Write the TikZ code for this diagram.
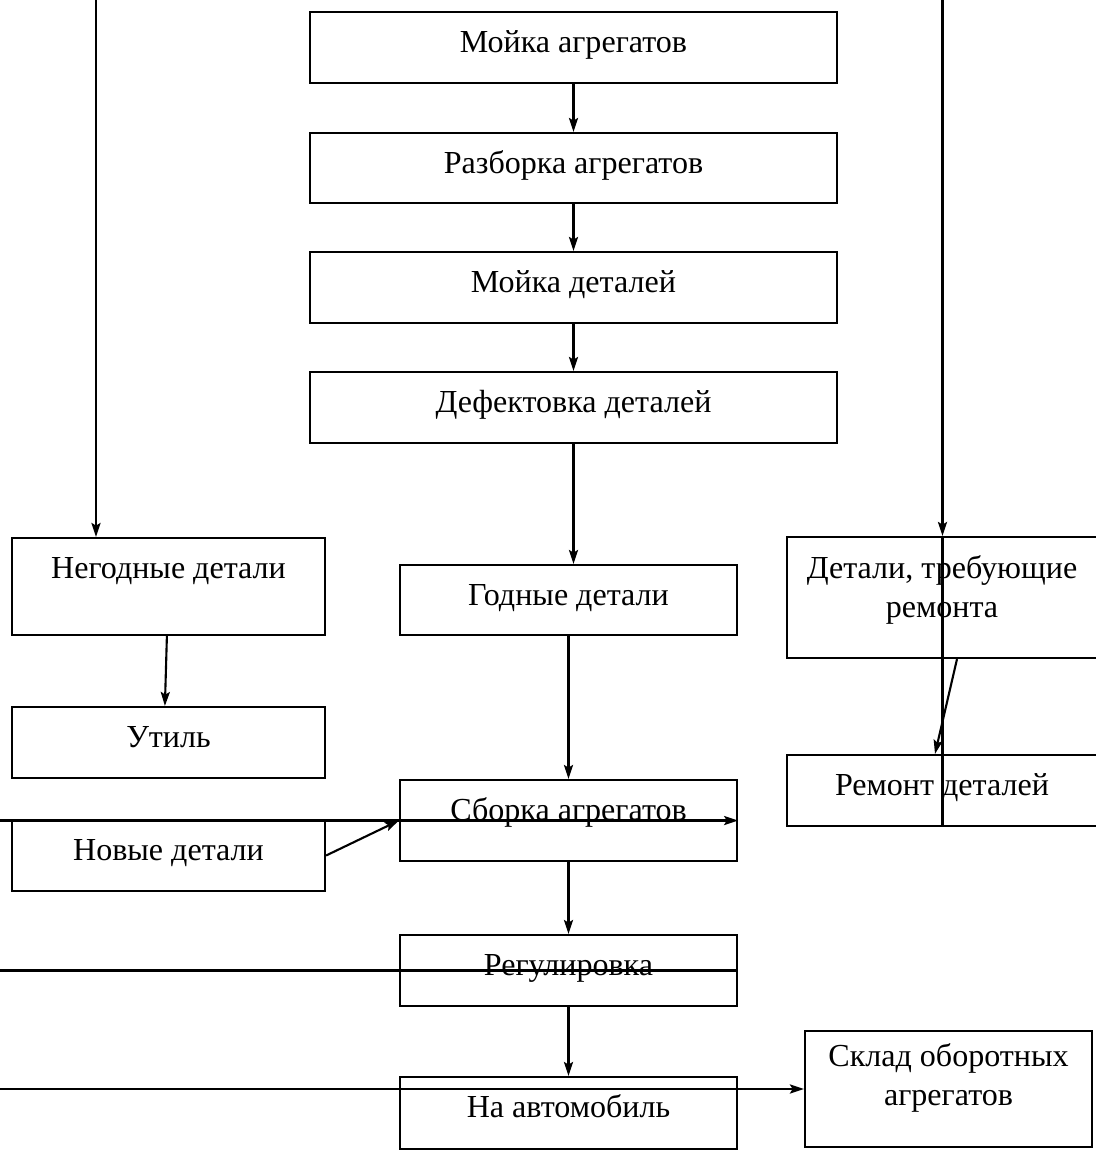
\documentclass[tikz,border=0pt]{standalone}
\usepackage{fontspec}
\setmainfont{Liberation Serif}
\usetikzlibrary{arrows.meta}

\tikzset{
  blok/.style={draw, inner sep=0pt},
  txt/.style={anchor=base, yshift=-1.03cm, inner sep=0pt, font=\fontsize{22.8}{27.7}\selectfont},
  txtdva/.style={anchor=center, align=center, inner sep=0pt, font=\fontsize{22.8}{27.7}\selectfont},
  strelka/.style={-{Stealth[length=10pt,width=6.5pt,inset=2pt]}},
}

\begin{document}
\begin{tikzpicture}[x=0.025cm,y=-0.025cm,line width=1.5pt]
\clip (0,0) rectangle (1096,1153);

% central column
\node[blok, minimum width=13.175cm, minimum height=1.775cm, label={[txt]north:Мойка агрегатов}] (moyka) at (573.5,47.5) {};
\node[blok, minimum width=13.175cm, minimum height=1.75cm, label={[txt]north:Разборка агрегатов}] (razborka) at (573.5,168) {};
\node[blok, minimum width=13.175cm, minimum height=1.775cm, label={[txt]north:Мойка деталей}] (moykadet) at (573.5,287.5) {};
\node[blok, minimum width=13.175cm, minimum height=1.775cm, label={[txt]north:Дефектовка деталей}] (defekt) at (573.5,407.5) {};

\node[blok, minimum width=8.425cm, minimum height=1.75cm, label={[txt]north:Годные детали}] (godnye) at (568.5,600) {};
\node[blok, minimum width=8.425cm, minimum height=2.025cm, label={[txt]north:Сборка агрегатов}] (sborka) at (568.5,820.5) {};
\node[blok, minimum width=8.425cm, minimum height=1.775cm, label={[txt]north:Регулировка}] (regul) at (568.5,970.5) {};
\node[blok, minimum width=8.425cm, minimum height=1.8cm, label={[txt]north:На автомобиль}] (naavto) at (568.5,1113) {};

% left column
\node[blok, minimum width=7.825cm, minimum height=2.425cm, label={[txt]north:Негодные детали}] (negod) at (168.5,586.5) {};
\node[blok, minimum width=7.825cm, minimum height=1.775cm, label={[txt]north:Утиль}] (util) at (168.5,742.5) {};
\node[blok, minimum width=7.825cm, minimum height=1.775cm, label={[txt]north:Новые детали}] (novye) at (168.5,855.5) {};

% right column
\node[blok, minimum width=7.75cm, minimum height=3.025cm, label={[txtdva, yshift=-1.35cm]north:Детали, требующие\\ремонта}] (remtreb) at (942,597.5) {};
\node[blok, minimum width=7.75cm, minimum height=1.775cm, label={[txt]north:Ремонт деталей}] (remont) at (942,790.5) {};
\node[blok, minimum width=7.175cm, minimum height=2.9cm, label={[txtdva, yshift=-1.2cm]north:Склад оборотных\\агрегатов}] (sklad) at (948.5,1089) {};

% incoming lines
\coordinate (vhodL) at (96,-10);
\coordinate (vhodR) at (942.5,-10);
\coordinate (kray) at (-10,0);

\draw[strelka] (moyka.south) -- (razborka.north);
\draw[strelka] (razborka.south) -- (moykadet.north);
\draw[strelka] (moykadet.south) -- (defekt.north);
\draw[strelka] (defekt.south) -- (defekt.south |- godnye.north);
\draw[strelka] (godnye.south) -- (sborka.north);
\draw[strelka] (sborka.south) -- (regul.north);
\draw[strelka] (regul.south) -- (naavto.north);

\draw[strelka] ([xshift=-0.04cm]negod.south) -- ([xshift=-0.09cm]util.north);
\draw[strelka] (novye.east) -- (sborka.west);
\draw[strelka] ([xshift=0.375cm]remtreb.south) -- ([xshift=-0.175cm]remont.north);

\draw[strelka] (vhodL) -- (vhodL |- negod.north);
\draw[strelka] (vhodR) -- (vhodR |- remtreb.north);
\draw (vhodR |- remtreb.north) -- (vhodR |- remont.south);

\draw[strelka] (kray |- sborka.east) -- (sborka.east);
\draw (kray |- regul.east) -- (regul.east);
\draw[strelka] (kray |- sklad.west) -- (sklad.west);
\end{tikzpicture}
\end{document}
